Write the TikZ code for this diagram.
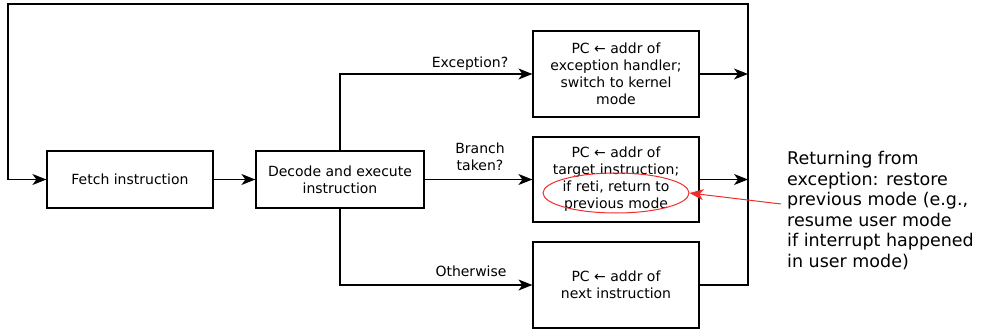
\documentclass[tikz,border=0pt]{standalone}
\usepackage{fontspec}
\setmainfont{DejaVu Sans}
\usetikzlibrary{arrows.meta,shapes.geometric}

\definecolor{markred}{RGB}{240,45,45}

\tikzset{
  stepbox/.style={draw, line width=1.2pt, align=center, inner sep=0pt,
    font=\fontsize{14}{17}\selectfont},
  flow/.style={line width=1.2pt, -{Stealth[length=14pt,width=11pt,inset=4pt]}},
  plain/.style={line width=1.2pt},
  lbl/.style={align=center, inner sep=0pt, font=\fontsize{14}{17}\selectfont},
  note/.style={align=left, inner sep=0pt, anchor=north west,
    font=\fontsize{17.5}{20.6}\selectfont},
  hilite/.style={draw=markred, line width=1pt, ellipse, inner sep=0pt},
  pointer/.style={draw=markred, line width=1pt,
    -{Stealth[length=14pt,width=11pt,inset=4pt,fill=markred]}}
}

\begin{document}
\begin{tikzpicture}[x=1pt, y=-1pt]
  \useasboundingbox (0,0) rectangle (983,329);

  % pipeline stages
  \node[stepbox, minimum width=166, minimum height=57] (fetch) at (130,179.5) {Fetch instruction};
  \node[stepbox, minimum width=168, minimum height=57] (decode) at (340,179.5) {Decode and execute\\instruction};

  % next-PC choices
  \node[stepbox, minimum width=166, minimum height=86] (exc) at (616,74)
    {PC ← addr of\\exception handler;\\switch to kernel\\mode};
  \node[stepbox, minimum width=166, minimum height=85] (br) at (616,179.5)
    {PC ← addr of\\target instruction;\\if reti, return to\\previous mode};
  \node[stepbox, minimum width=166, minimum height=86] (seq) at (616,285)
    {PC ← addr of\\next instruction};

  % loop-back corners
  \coordinate (rtop) at (748,4);
  \coordinate (ltop) at (8,4);
  \coordinate (lmid) at (8,179.5);
  \coordinate (rexc) at (748,74);
  \coordinate (rbr) at (748,179.5);
  \coordinate (rseq) at (748,285);
  \coordinate (dup) at (340,74);
  \coordinate (ddown) at (340,285);

  % decode branches
  \draw[flow] (fetch) -- (decode);
  \draw[flow] (decode.north) -- (dup) -- (exc.west);
  \draw[flow] (decode) -- (br.west);
  \draw[flow] (decode.south) -- (ddown) -- (seq.west);

  \node[lbl, anchor=base] (lexc) at (470,67) {Exception?};
  \node[lbl, anchor=base] (lbr) at (480,170) {Branch\\taken?};
  \node[lbl, anchor=base] (lseq) at (471,276) {Otherwise};

  % back to fetch
  \draw[flow] (exc.east) -- (rexc);
  \draw[flow] (br.east) -- (rbr);
  \draw[plain] (seq.east) -- (rseq) -- (rtop) -- (ltop) -- (lmid);
  \draw[flow] (lmid) -- (fetch.west);

  % reti annotation
  \node[hilite, minimum width=146, minimum height=40] (reti) at (616,193) {};
  \node[note] (expl) at (787,151)
    {Returning from\\exception: restore\\previous mode (e.g.,\\resume user mode\\if interrupt happened\\in user mode)};
  \coordinate (ptr) at (781,204);
  \draw[pointer] (ptr) -- (reti.east);
\end{tikzpicture}
\end{document}
